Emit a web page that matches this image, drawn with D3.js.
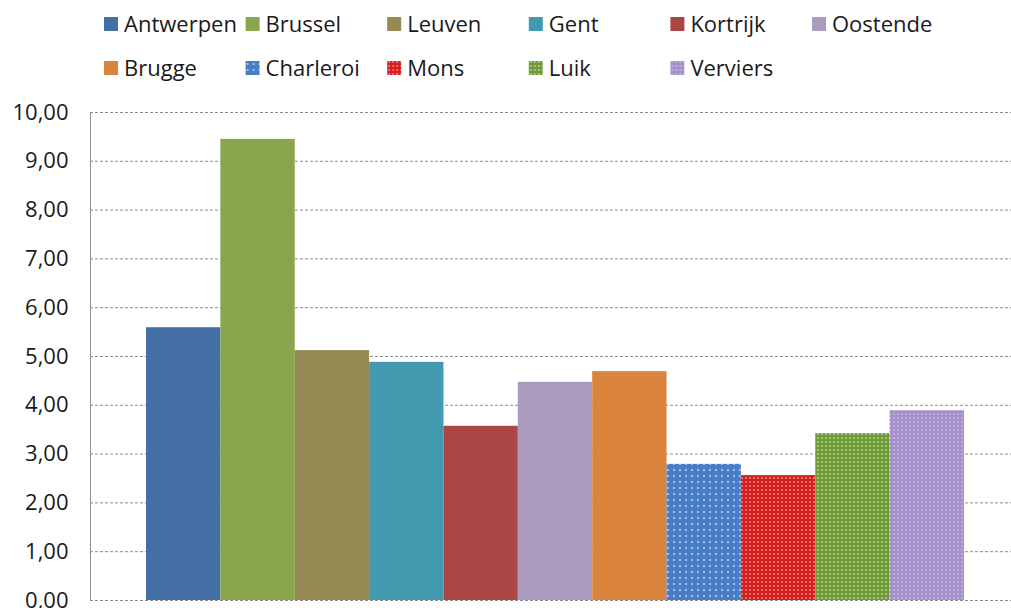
<!DOCTYPE html>
<html>
<head>
<meta charset="utf-8">
<script src="https://d3js.org/d3.v7.min.js"></script>
<style>
  body { margin: 0; background: #fff; }
  text { font-family: "Open Sans", "Noto Sans", sans-serif; fill: #1a1a1a; }
</style>
</head>
<body>
<script>
// data
const cities = ['Antwerpen','Brussel','Leuven','Gent','Kortrijk','Oostende',
                'Brugge','Charleroi','Mons','Luik','Verviers'];
const values = [5.59, 9.45, 5.12, 4.88, 3.57, 4.47, 4.69, 2.79, 2.56, 3.42, 3.89];
const yTicks = [0,1,2,3,4,5,6,7,8,9,10];

const colors = ['#4570a6','#89a54e','#968954','#4299b0','#aa4644','#a99bbd',
                '#db843d','#4a7ec4','#d41f1f','#6f9a38','#a690c9'];
// dotted fills for the last four series: [base, dot, spacing]
const dots = {
  Charleroi: ['#4a7ec4', '#9cc0ee', 6],
  Mons: ['#d41f1f', '#f06a6a', 4],
  Luik: ['#6f9a38', '#a5c77a', 4],
  Verviers: ['#a690c9', '#bcaedb', 4]
};

const width = 1011, height = 608;
const margin = {left: 90, right: -9, top: 112, bottom: 8};

const svg = d3.select('body').append('svg')
    .attr('width', width)
    .attr('height', height);

const defs = svg.append('defs');
Object.keys(dots).forEach(function(k) {
    const d = dots[k];
    const p = defs.append('pattern')
        .attr('id', 'pat-' + k)
        .attr('patternUnits', 'userSpaceOnUse')
        .attr('width', d[2]).attr('height', d[2]);
    p.append('rect').attr('width', d[2]).attr('height', d[2]).attr('fill', d[0]);
    p.append('rect').attr('x', 1).attr('y', 1).attr('width', 2).attr('height', 2).attr('fill', d[1]);
});

function fillFor(name, i) {
    return dots[name] ? 'url(#pat-' + name + ')' : colors[i];
}

const plotRight = width - margin.right;
const plotBottom = height - margin.bottom;

const y = d3.scaleLinear().domain([0, 10]).range([plotBottom, margin.top]);
const x = d3.scaleBand().domain(cities).range([146, 964]).padding(0);

// gridlines
svg.append('g').selectAll('line')
    .data(yTicks)
    .enter().append('line')
    .attr('x1', margin.left).attr('x2', plotRight)
    .attr('y1', function(d) { return y(d) + 0.5; })
    .attr('y2', function(d) { return y(d) + 0.5; })
    .attr('stroke', '#8c8c8c')
    .attr('stroke-width', 1)
    .attr('stroke-dasharray', '3,2');

// bars
svg.append('g').selectAll('rect')
    .data(values)
    .enter().append('rect')
    .attr('x', function(d, i) { return x(cities[i]); })
    .attr('y', function(d) { return y(d); })
    .attr('width', x.bandwidth())
    .attr('height', function(d) { return y(0) - y(d); })
    .attr('fill', function(d, i) { return fillFor(cities[i], i); });

// y axis
const yAxis = d3.axisLeft(y)
    .tickValues(yTicks)
    .tickSize(0)
    .tickPadding(22)
    .tickFormat(function(d) { return d3.format('.2f')(d).replace('.', ','); });

const ga = svg.append('g')
    .attr('transform', 'translate(' + (margin.left + 0.5) + ',0)')
    .call(yAxis);
ga.select('.domain').attr('stroke', '#8c8c8c').attr('d', 'M0,' + margin.top + 'V' + plotBottom);
ga.selectAll('text')
    .style('font-size', '22px')
    .style('font-family', '"Open Sans", "Noto Sans", sans-serif')
    .attr('fill', '#1a1a1a');

// legend
const legend = svg.append('g');
const item = legend.selectAll('g')
    .data(cities)
    .enter().append('g')
    .attr('transform', function(d, i) {
        const row = i < 6 ? 0 : 1;
        const col = i < 6 ? i : i - 6;
        return 'translate(' + (104 + col * 141.6) + ',' + (24 + row * 44) + ')';
    });
item.append('rect')
    .attr('x', 0).attr('y', -7)
    .attr('width', 14).attr('height', 14)
    .attr('fill', function(d, i) { return fillFor(d, i); });
item.append('text')
    .attr('x', 20).attr('y', 0)
    .attr('dy', '0.35em')
    .style('font-size', '22px')
    .text(function(d) { return d; });
</script>
</body>
</html>
